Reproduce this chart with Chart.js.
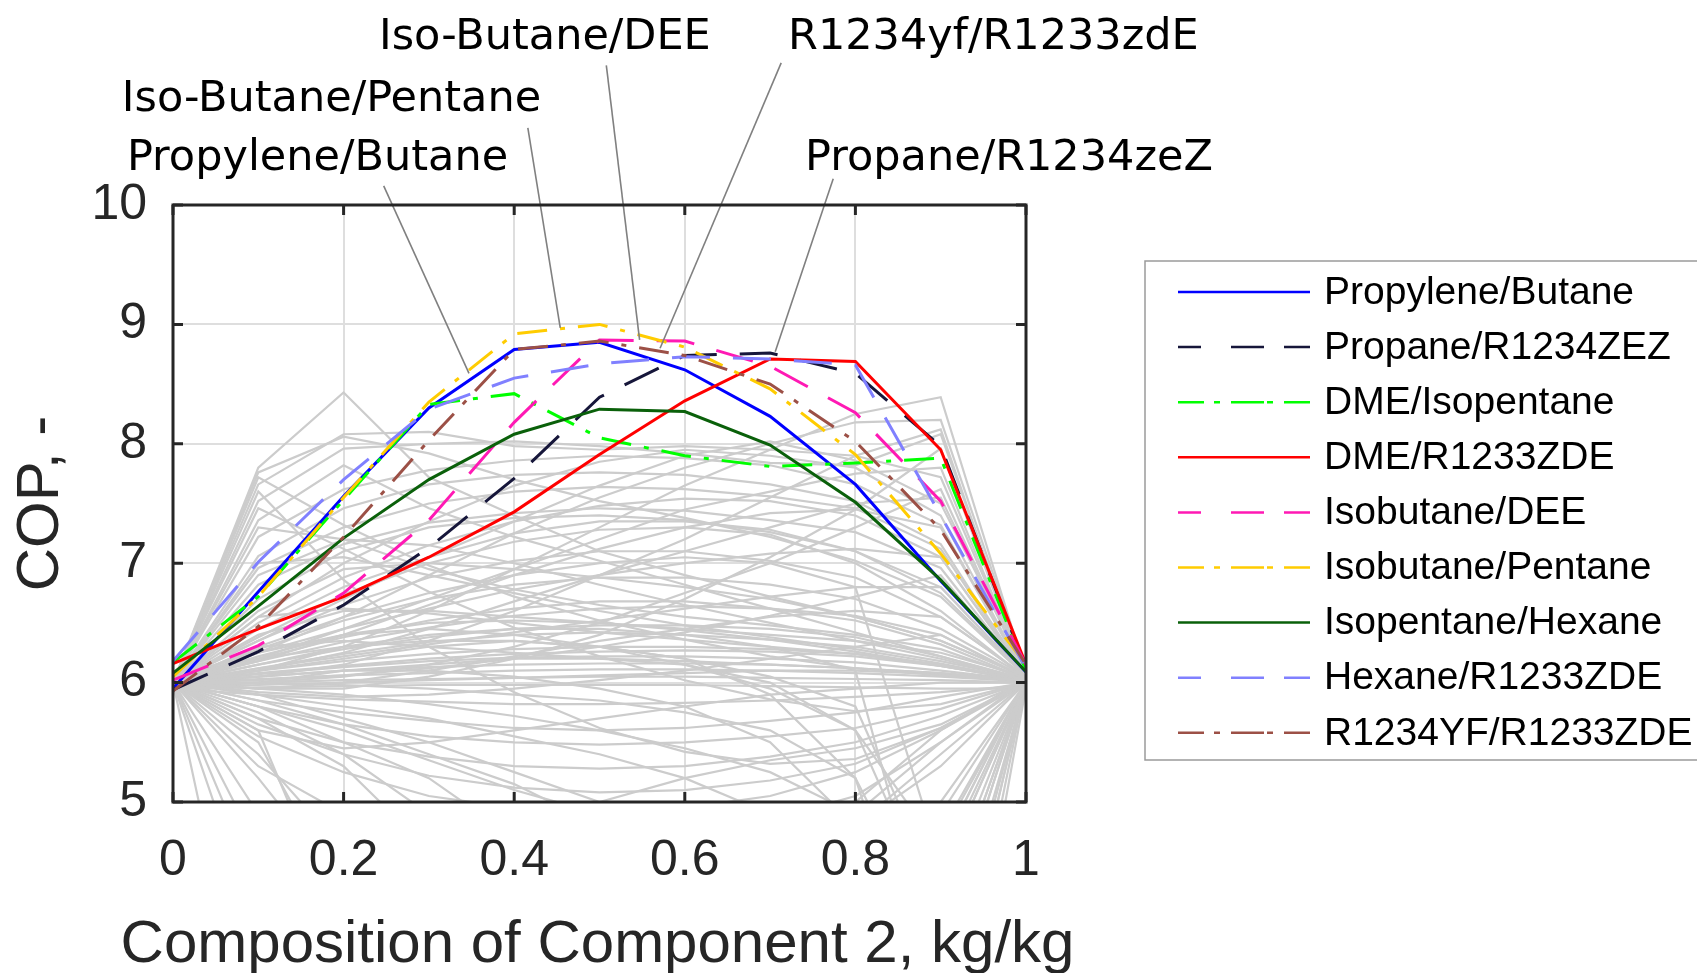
<!DOCTYPE html>
<html lang="en">
<head>
<meta charset="UTF-8">
<title>COP vs Composition of Component 2</title>
<script src="https://cdn.jsdelivr.net/npm/chart.js"></script>
<style>
  html, body { margin: 0; padding: 0; background: #fff; }
  #wrap { width: 1697px; height: 973px; }
</style>
</head>
<body>
<div id="wrap"><canvas id="chart" width="1697" height="973"></canvas></div>
<script>
// composition of component 2 (kg/kg)
const compositions = [0, 0.1, 0.2, 0.3, 0.4, 0.5, 0.6, 0.7, 0.8, 0.9, 1.0];

// highlighted mixtures (COP)
const propyleneButane   = [5.95, 6.76, 7.56, 8.30, 8.79, 8.85, 8.62, 8.23, 7.66, 6.85, 6.09];
const propaneR1234zez   = [5.94, 6.26, 6.65, 7.13, 7.71, 8.39, 8.74, 8.76, 8.59, 7.98, 6.12];
const dmeIsopentane     = [6.17, 6.72, 7.53, 8.33, 8.42, 8.05, 7.90, 7.81, 7.84, 7.88, 6.10];
const dmeR1233zde       = [6.16, 6.45, 6.72, 7.05, 7.43, 7.91, 8.36, 8.71, 8.69, 7.95, 6.15];
const isobutaneDee      = [6.02, 6.31, 6.75, 7.36, 8.18, 8.87, 8.86, 8.65, 8.26, 7.52, 6.15];
const isobutanePentane  = [6.05, 6.72, 7.55, 8.35, 8.92, 9.00, 8.81, 8.46, 7.91, 7.08, 6.15];
const isopentaneHexane  = [6.08, 6.64, 7.21, 7.70, 8.08, 8.29, 8.27, 7.99, 7.51, 6.86, 6.09];
const hexaneR1233zde    = [6.18, 7.01, 7.70, 8.29, 8.55, 8.67, 8.73, 8.71, 8.66, 7.40, 6.12];
const r1234yfR1233zde   = [5.93, 6.47, 7.22, 8.03, 8.79, 8.86, 8.74, 8.50, 8.02, 7.28, 6.15];

const highlightNames = ['Propylene/Butane', 'Propane/R1234ZEZ', 'DME/Isopentane', 'DME/R1233ZDE',
  'Isobutane/DEE', 'Isobutane/Pentane', 'Isopentane/Hexane', 'Hexane/R1233ZDE', 'R1234YF/R1233ZDE'];
const highlightValues = [propyleneButane, propaneR1234zez, dmeIsopentane, dmeR1233zde,
  isobutaneDee, isobutanePentane, isopentaneHexane, hexaneR1233zde, r1234yfR1233zde];

// all other mixtures (grey background)
const otherMixtures = [
  [6.00, 7.80, 8.43, 7.72, 7.40, 7.10, 6.90, 6.72, 6.55, 6.35, 6.05],
  [6.00, 7.76, 8.06, 7.92, 7.70, 7.52, 7.38, 7.22, 7.02, 6.72, 6.05],
  [6.00, 7.72, 7.32, 6.98, 6.72, 6.52, 6.36, 6.22, 6.12, 6.06, 6.02],
  [6.00, 7.66, 8.08, 8.10, 7.98, 7.95, 7.98, 7.95, 7.90, 7.72, 6.06],
  [6.00, 7.52, 7.96, 8.00, 8.02, 7.98, 7.92, 7.84, 7.82, 8.08, 6.08],
  [6.00, 7.36, 7.82, 7.46, 7.22, 7.02, 6.82, 6.62, 6.42, 6.22, 6.02],
  [6.00, 7.22, 7.62, 7.78, 7.86, 7.90, 7.88, 7.82, 7.66, 7.32, 6.05],
  [6.00, 7.06, 7.46, 7.66, 7.74, 7.76, 7.74, 7.66, 7.52, 7.16, 6.05],
  [6.00, 6.96, 7.30, 7.50, 7.60, 7.64, 7.62, 7.56, 7.46, 7.12, 6.05],
  [6.00, 6.82, 7.16, 7.34, 7.42, 7.46, 7.44, 7.36, 7.26, 6.96, 6.05],
  [6.00, 7.46, 7.12, 6.76, 6.46, 6.22, 6.02, 5.86, 5.76, 5.82, 6.00],
  [6.00, 7.60, 6.86, 6.30, 5.92, 5.62, 5.42, 5.32, 5.36, 5.62, 6.00],
  [6.00, 6.10, 6.30, 6.60, 6.95, 7.30, 7.65, 7.95, 8.25, 8.39, 6.08],
  [6.05, 6.25, 6.55, 6.90, 7.25, 7.55, 7.80, 8.00, 8.18, 8.20, 6.10],
  [6.00, 6.05, 6.15, 6.35, 6.60, 6.90, 7.20, 7.55, 7.90, 8.12, 6.05],
  [6.00, 5.95, 5.95, 6.05, 6.20, 6.40, 6.70, 7.05, 7.45, 7.96, 6.05],
  [6.00, 6.20, 6.45, 6.70, 6.95, 7.20, 7.45, 7.60, 7.75, 7.80, 6.05],
  [6.00, 6.00, 6.05, 6.15, 6.30, 6.50, 6.75, 7.00, 7.30, 7.62, 6.05],
  [6.02, 6.35, 6.70, 7.05, 7.35, 7.65, 7.90, 8.02, 7.86, 7.50, 6.10],
  [6.00, 6.55, 7.00, 7.35, 7.65, 7.85, 7.95, 7.90, 7.80, 7.40, 6.05],
  [6.00, 6.45, 6.80, 7.05, 7.25, 7.35, 7.35, 7.28, 7.10, 6.75, 6.05],
  [6.00, 6.35, 6.65, 6.88, 7.02, 7.10, 7.10, 7.02, 6.88, 6.55, 6.05],
  [6.00, 6.28, 6.52, 6.70, 6.82, 6.88, 6.88, 6.82, 6.70, 6.45, 6.05],
  [6.00, 6.20, 6.38, 6.52, 6.62, 6.68, 6.68, 6.62, 6.52, 6.32, 6.03],
  [6.00, 6.15, 6.28, 6.38, 6.45, 6.48, 6.48, 6.45, 6.38, 6.22, 6.03],
  [6.00, 6.10, 6.18, 6.24, 6.28, 6.30, 6.30, 6.28, 6.24, 6.15, 6.02],
  [6.00, 6.05, 6.10, 6.13, 6.15, 6.16, 6.16, 6.15, 6.12, 6.08, 6.02],
  [5.98, 6.00, 6.02, 6.03, 6.04, 6.05, 6.05, 6.04, 6.03, 6.02, 6.00],
  [5.95, 5.96, 5.97, 5.98, 5.98, 5.98, 5.98, 5.97, 5.96, 5.95, 5.95],
  [6.00, 6.40, 6.60, 6.60, 6.55, 6.50, 6.45, 6.40, 6.35, 6.25, 6.05],
  [6.00, 6.60, 6.95, 7.00, 6.95, 6.88, 6.80, 6.70, 6.55, 6.35, 6.05],
  [6.00, 6.25, 6.45, 6.62, 6.78, 6.90, 7.00, 7.08, 7.12, 7.05, 6.05],
  [6.00, 6.12, 6.22, 6.32, 6.42, 6.52, 6.62, 6.72, 6.80, 6.80, 6.05],
  [6.00, 6.30, 6.35, 6.30, 6.25, 6.20, 6.18, 6.15, 6.12, 6.08, 6.02],
  [6.00, 6.90, 7.20, 7.15, 7.00, 6.82, 6.65, 6.50, 6.35, 6.20, 6.02],
  [6.00, 5.95, 6.00, 6.10, 6.22, 6.35, 6.45, 6.55, 6.60, 6.55, 6.05],
  [6.02, 6.18, 6.34, 6.46, 6.56, 6.62, 6.64, 6.62, 6.56, 6.40, 6.04],
  [6.00, 6.08, 6.14, 6.20, 6.24, 6.26, 6.27, 6.26, 6.22, 6.14, 6.02],
  [6.00, 6.50, 6.88, 7.15, 7.35, 7.48, 7.54, 7.52, 7.40, 7.05, 6.06],
  [6.00, 6.70, 7.10, 7.30, 7.38, 7.40, 7.36, 7.26, 7.10, 6.80, 6.05],
  [6.00, 6.02, 6.06, 6.12, 6.20, 6.30, 6.42, 6.56, 6.72, 6.90, 6.04],
  [6.00, 6.22, 6.40, 6.50, 6.52, 6.50, 6.44, 6.36, 6.26, 6.14, 6.02],
  [6.00, 6.03, 6.06, 6.08, 6.10, 6.11, 6.11, 6.10, 6.08, 6.05, 6.01],
  [6.00, 6.07, 6.13, 6.18, 6.21, 6.22, 6.22, 6.20, 6.17, 6.10, 6.02],
  [6.00, 6.12, 6.24, 6.34, 6.40, 6.42, 6.40, 6.36, 6.30, 6.18, 6.03],
  [5.97, 5.98, 6.00, 6.02, 6.04, 6.06, 6.08, 6.10, 6.10, 6.07, 6.01],
  [6.00, 6.55, 6.62, 6.58, 6.50, 6.42, 6.36, 6.30, 6.24, 6.14, 6.02],
  [6.00, 7.00, 7.05, 6.90, 6.75, 6.60, 6.48, 6.38, 6.28, 6.16, 6.02],
  [6.00, 7.30, 7.20, 6.95, 6.78, 6.65, 6.55, 6.48, 6.40, 6.28, 6.03],
  [6.00, 6.38, 6.74, 7.00, 7.18, 7.28, 7.30, 7.24, 7.00, 6.60, 6.04],
  [6.00, 6.10, 6.25, 6.45, 6.68, 6.90, 7.10, 7.30, 7.50, 7.55, 6.06],
  [6.00, 6.18, 6.40, 6.65, 6.90, 7.12, 7.30, 7.42, 7.45, 7.30, 6.05],
  [6.00, 5.92, 5.88, 5.90, 5.95, 6.02, 6.10, 6.20, 6.30, 6.40, 6.03],
  [6.00, 5.85, 5.75, 5.68, 5.62, 5.60, 5.62, 5.68, 5.75, 5.88, 6.00],
  [6.00, 5.80, 5.65, 5.55, 5.50, 5.48, 5.50, 5.55, 5.62, 5.78, 6.00],
  [6.00, 5.70, 5.50, 5.38, 5.30, 5.28, 5.30, 5.38, 5.50, 5.72, 6.00],
  [6.00, 5.65, 5.40, 5.22, 5.12, 5.08, 5.10, 5.18, 5.32, 5.62, 6.00],
  [6.00, 5.55, 5.25, 5.05, 4.95, 4.92, 4.95, 5.05, 5.25, 5.60, 6.00],
  [6.00, 5.60, 5.45, 5.50, 5.60, 5.70, 5.80, 5.90, 5.95, 6.00, 6.00],
  [6.00, 5.30, 4.90, 4.75, 4.80, 5.00, 5.20, 5.35, 5.45, 5.65, 6.00],
  [6.00, 5.80, 5.60, 5.35, 5.10, 4.90, 4.80, 4.85, 5.05, 5.50, 6.00],
  [5.95, 5.90, 5.86, 5.84, 5.82, 5.82, 5.83, 5.85, 5.88, 5.92, 5.98],
  [6.00, 2.70, 1.00, 1.00, 1.00, 1.00, 1.00, 1.00, 1.00, 4.00, 6.00],
  [6.00, 3.90, 2.00, 1.50, 1.50, 1.50, 1.50, 1.50, 2.00, 3.00, 6.00],
  [6.00, 4.60, 3.50, 3.00, 2.80, 2.70, 2.70, 2.80, 3.00, 3.80, 6.00],
  [6.00, 4.90, 4.00, 3.50, 3.20, 3.00, 3.00, 3.20, 3.50, 4.60, 6.02],
  [6.00, 5.60, 3.90, 3.00, 2.80, 2.80, 3.00, 3.50, 4.20, 5.00, 6.00],
  [6.00, 5.50, 4.20, 3.50, 3.20, 3.10, 3.20, 3.60, 4.30, 4.90, 6.00],
  [6.00, 5.70, 5.30, 4.60, 4.20, 4.00, 4.00, 4.20, 4.80, 5.40, 6.00],
  [6.00, 5.80, 5.50, 5.20, 4.70, 4.40, 4.30, 4.50, 4.90, 5.50, 6.02],
  [6.00, 5.40, 4.60, 4.00, 3.60, 3.50, 3.50, 3.70, 4.10, 4.75, 6.00],
  [6.00, 5.75, 5.40, 4.90, 4.50, 4.30, 4.30, 4.50, 5.00, 5.60, 6.04],
  [6.00, 5.85, 5.65, 5.40, 5.15, 4.80, 4.60, 4.60, 4.80, 5.30, 6.00],
  [6.00, 5.90, 5.70, 5.50, 5.25, 5.00, 4.70, 4.40, 4.30, 4.70, 6.00],
  [5.95, 6.00, 6.10, 6.15, 6.20, 6.20, 6.15, 6.00, 5.60, 4.00, 6.00],
  [6.05, 6.20, 6.30, 6.35, 6.35, 6.30, 6.20, 6.05, 5.80, 4.20, 6.00],
  [6.00, 6.10, 6.20, 6.30, 6.35, 6.30, 6.20, 5.90, 5.20, 3.00, 6.00],
  [6.00, 6.05, 6.10, 6.10, 6.05, 5.95, 5.80, 5.50, 4.80, 2.50, 6.00],
  [6.00, 6.00, 5.98, 5.95, 5.90, 5.85, 5.75, 5.60, 5.20, 3.80, 6.00],
  [6.00, 5.95, 5.90, 5.82, 5.72, 5.60, 5.45, 5.25, 4.90, 4.40, 6.00],
  [6.00, 6.25, 6.40, 6.45, 6.40, 6.30, 6.15, 5.95, 5.60, 4.60, 6.02],
  [6.00, 6.30, 6.55, 6.75, 6.90, 7.00, 7.05, 7.00, 6.80, 4.50, 6.00],
  [6.00, 6.15, 6.30, 6.40, 6.45, 6.45, 6.40, 6.30, 6.10, 3.50, 5.98],
  [6.00, 5.90, 5.80, 5.70, 5.55, 5.40, 5.20, 4.90, 4.20, 2.00, 5.96],
  [6.00, 4.30, 3.00, 2.50, 2.20, 2.00, 2.00, 2.20, 2.60, 3.30, 6.00],
  [6.00, 5.20, 4.30, 3.50, 3.00, 2.80, 2.80, 3.00, 3.60, 4.40, 6.00]
];

const xTickValues = [0, 0.2, 0.4, 0.6, 0.8, 1];
const yTickValues = [5, 6, 7, 8, 9, 10];
const xTitle = 'Composition of Component 2, kg/kg';

// callout labels: text, text anchor, leader start, leader end (data units)
const callouts = [
  { text: 'Propylene/Butane',   at: [-0.054, 10.29], from: [0.247, 10.16], to: [0.347, 8.59] },
  { text: 'Iso-Butane/Pentane', at: [-0.060, 10.79], from: [0.416, 10.645], to: [0.454, 8.97] },
  { text: 'Iso-Butane/DEE',     at: [0.2415, 11.31], from: [0.508, 11.17], to: [0.547, 8.87] },
  { text: 'R1234yf/R1233zdE',   at: [0.721, 11.31],  from: [0.713, 11.19], to: [0.571, 8.80] },
  { text: 'Propane/R1234zeZ',   at: [0.741, 10.29],  from: [0.774, 10.22], to: [0.706, 8.77] }
];

// line styles
const DASH = [38, 23];
const DASHDOT = [30, 13, 5, 13];
const LEGEND_DASH = [23, 30, 33, 20, 26];
const LEGEND_DASHDOT = [26, 10, 6, 11, 33, 3, 6, 11, 26, 60];
const seriesStyles = [
  { color: '#0000ff', dash: [] },
  { color: '#16163a', dash: DASH },
  { color: '#00ff00', dash: DASHDOT },
  { color: '#ff0000', dash: [] },
  { color: '#ff19b4', dash: DASH },
  { color: '#ffcc00', dash: DASHDOT },
  { color: '#0a600a', dash: [] },
  { color: '#8080ff', dash: DASH },
  { color: '#9c5046', dash: DASHDOT }
];

const AXIS_FONT = "'Liberation Sans', Arial, sans-serif";
const NOTE_FONT = "'DejaVu Sans', sans-serif";
const INK = '#262626';

function toPoints(values) {
  return compositions.map((x, i) => ({ x: x, y: values[i] }));
}

const datasets = [];
otherMixtures.forEach(values => {
  datasets.push({
    data: toPoints(values),
    borderColor: '#cccccc',
    borderWidth: 2.2,
    pointRadius: 0,
    order: 100
  });
});
highlightValues.forEach((values, i) => {
  datasets.push({
    label: highlightNames[i],
    data: toPoints(values),
    borderColor: seriesStyles[i].color,
    borderDash: seriesStyles[i].dash,
    borderWidth: 3,
    pointRadius: 0,
    order: highlightValues.length - i
  });
});

const framePlugin = {
  id: 'frame',
  afterDatasetsDraw(chart) {
    const { ctx, chartArea: a, scales } = chart;
    const x = scales.x, y = scales.y;
    ctx.save();

    // callout leaders and text
    ctx.strokeStyle = '#808080';
    ctx.lineWidth = 1.6;
    callouts.forEach(c => {
      ctx.beginPath();
      ctx.moveTo(x.getPixelForValue(c.from[0]), y.getPixelForValue(c.from[1]));
      ctx.lineTo(x.getPixelForValue(c.to[0]), y.getPixelForValue(c.to[1]));
      ctx.stroke();
    });
    ctx.fillStyle = '#000';
    ctx.font = '43px ' + NOTE_FONT;
    ctx.textAlign = 'left';
    ctx.textBaseline = 'alphabetic';
    callouts.forEach(c => {
      ctx.fillText(c.text, x.getPixelForValue(c.at[0]), y.getPixelForValue(c.at[1]));
    });

    // box and inward ticks
    ctx.strokeStyle = INK;
    ctx.lineWidth = 3;
    ctx.strokeRect(a.left, a.top, a.right - a.left, a.bottom - a.top);
    ctx.beginPath();
    xTickValues.forEach(v => {
      const px = x.getPixelForValue(v);
      ctx.moveTo(px, a.bottom); ctx.lineTo(px, a.bottom - 10);
      ctx.moveTo(px, a.top); ctx.lineTo(px, a.top + 10);
    });
    yTickValues.forEach(v => {
      const py = y.getPixelForValue(v);
      ctx.moveTo(a.left, py); ctx.lineTo(a.left + 10, py);
      ctx.moveTo(a.right, py); ctx.lineTo(a.right - 10, py);
    });
    ctx.stroke();

    // x axis title (wider than the axes, so drawn here without squeezing)
    ctx.fillStyle = INK;
    ctx.font = '60px ' + AXIS_FONT;
    ctx.textAlign = 'center';
    ctx.textBaseline = 'alphabetic';
    ctx.fillText(xTitle, (a.left + a.right) / 2 - 2, a.bottom + 160);
    ctx.restore();
  },
  afterDraw(chart) {
    // legend box on the right
    const ctx = chart.ctx;
    const boxLeft = 1145, boxTop = 261, boxBottom = 760;
    const lineStart = 1178, lineEnd = 1310, textX = 1324;
    const firstRow = 292, rowGap = 55.1;
    ctx.save();
    ctx.strokeStyle = '#9a9a9a';
    ctx.lineWidth = 1.5;
    ctx.strokeRect(boxLeft, boxTop, 1720 - boxLeft, boxBottom - boxTop);
    ctx.font = '39px ' + AXIS_FONT;
    ctx.textBaseline = 'middle';
    ctx.textAlign = 'left';
    highlightNames.forEach((name, i) => {
      const rowY = firstRow + rowGap * i;
      const st = seriesStyles[i];
      ctx.strokeStyle = st.color;
      ctx.lineWidth = 2.5;
      ctx.setLineDash(st.dash === DASH ? LEGEND_DASH : st.dash === DASHDOT ? LEGEND_DASHDOT : []);
      ctx.beginPath();
      ctx.moveTo(lineStart, rowY);
      ctx.lineTo(lineEnd, rowY);
      ctx.stroke();
      ctx.setLineDash([]);
      ctx.fillStyle = '#000';
      ctx.fillText(name, textX, rowY + 1);
    });
    ctx.restore();
  }
};

new Chart(document.getElementById('chart'), {
  type: 'line',
  data: { datasets: datasets },
  options: {
    responsive: false,
    animation: false,
    layout: { padding: { left: 0, top: 205, right: 671, bottom: 0 } },
    elements: { line: { tension: 0, fill: false } },
    plugins: {
      legend: { display: false },
      tooltip: { enabled: false }
    },
    scales: {
      x: {
        type: 'linear',
        min: 0,
        max: 1,
        afterFit: s => { s.height = 171; },
        afterBuildTicks: s => { s.ticks = xTickValues.map(v => ({ value: v })); },
        ticks: {
          padding: 29,
          color: INK,
          maxRotation: 0,
          autoSkip: false,
          font: { family: AXIS_FONT, size: 50 },
          callback: v => String(Math.round(v * 10) / 10)
        },
        grid: { color: '#dedede', lineWidth: 2, drawTicks: false },
        border: { display: false },
        title: { display: false }
      },
      y: {
        min: 5,
        max: 10,
        afterFit: s => { s.width = 173; },
        afterBuildTicks: s => { s.ticks = yTickValues.map(v => ({ value: v })); },
        ticks: {
          padding: 26,
          color: INK,
          font: { family: AXIS_FONT, size: 50 }
        },
        grid: { color: '#dedede', lineWidth: 2, drawTicks: false },
        border: { display: false },
        title: {
          display: true,
          text: 'COP, -',
          color: INK,
          font: { family: AXIS_FONT, size: 60, lineHeight: 1 },
          padding: { top: 11, bottom: 0 }
        }
      }
    }
  },
  plugins: [framePlugin]
});
</script>
</body>
</html>
